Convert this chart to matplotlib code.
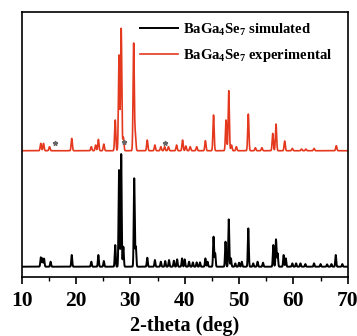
import numpy as np
import matplotlib
matplotlib.use("Agg")
import matplotlib.pyplot as plt

# Peak positions (2-theta, deg) and heights (arbitrary units)
sim_pos = [13.5, 13.8, 14.1, 15.3, 19.2, 22.8, 24.1, 25.1, 27.2, 27.9, 28.3, 28.7,
           30.7, 31.0, 33.1, 34.5, 35.6, 36.4, 37.1, 38.0, 38.6, 39.5, 40.0, 40.8,
           41.5, 42.2, 42.8, 43.8, 44.2, 45.3, 45.6, 47.5, 48.1, 48.5, 49.3, 50.0,
           50.5, 51.7, 52.6, 53.4, 54.4, 56.3, 56.8, 57.1, 58.2, 58.6, 59.8, 60.5,
           61.3, 62.2, 63.8, 65.0, 66.2, 67.0, 67.8, 69.0]
sim_h = [28, 25, 24, 15, 35, 15, 35, 17, 65, 290, 338, 60,
         265, 60, 27, 20, 15, 17, 20, 18, 22, 25, 22, 15,
         13, 13, 13, 25, 15, 90, 40, 75, 142, 25, 10, 12,
         15, 115, 10, 15, 12, 65, 82, 40, 35, 25, 10, 10,
         10, 8, 10, 8, 7, 8, 35, 8]

exp_pos = [13.5, 14.0, 15.1, 19.2, 22.8, 23.6, 24.1, 25.1, 27.2, 27.9, 28.3, 28.7,
           30.6, 30.9, 33.1, 34.5, 35.6, 36.3, 37.0, 38.5, 39.6, 40.2, 41.0, 42.2,
           43.8, 45.3, 47.6, 48.1, 48.6, 49.5, 51.7, 53.0, 54.2, 56.2, 56.8, 58.4,
           59.8, 61.5, 62.3, 63.8, 67.9]
exp_h = [22, 22, 12, 37, 12, 17, 34, 20, 92, 287, 367, 40,
         322, 50, 32, 17, 12, 12, 12, 17, 32, 14, 12, 12,
         30, 107, 92, 180, 17, 12, 110, 9, 9, 52, 80, 29,
         7, 5, 5, 7, 15]

# impurity markers (*) on experimental pattern
imp_pos = [16.2, 28.8, 36.3]
imp_h = [22, 27, 24]

offset = 348

def pattern(x, pos, h, w):
    y = np.zeros_like(x)
    for p, a in zip(pos, h):
        y += a * np.exp(-0.5 * ((x - p) / w) ** 2)
    return y

x = np.linspace(10, 70, 6001)
y_sim = pattern(x, sim_pos, sim_h, 0.09)
y_exp = pattern(x, exp_pos, exp_h, 0.11) + offset

plt.rcParams['font.family'] = ['Liberation Serif', 'DejaVu Serif']
plt.rcParams['font.weight'] = 'bold'
plt.rcParams['mathtext.fontset'] = 'custom'
plt.rcParams['mathtext.rm'] = 'Liberation Serif:bold'
plt.rcParams['mathtext.bf'] = 'Liberation Serif:bold'

fig = plt.figure(figsize=(3.57, 3.36), dpi=100)
ax = fig.add_axes([0.061, 0.1765, 0.913, 0.7885])

red = '#e4391f'
ax.plot(x, y_sim, color='black', lw=1.4, label=r'BaGa$_\mathbf{4}$Se$_\mathbf{7}$ simulated')
ax.plot(x, y_exp, color=red, lw=1.2, label=r'BaGa$_\mathbf{4}$Se$_\mathbf{7}$ experimental')
ax.plot(imp_pos, np.array(imp_h) + offset, ls='none', marker='*', ms=3.5,
        color='#666666')

ax.set_xlim(10, 70)
ax.set_ylim(-30, 765)
ax.set_yticks([])
ax.set_xticks([10, 20, 30, 40, 50, 60, 70])
ax.set_xticks(np.arange(15, 70, 10), minor=True)
ax.tick_params(axis='x', which='major', direction='out', length=5, width=1.2,
               labelsize=15.5, pad=5)
ax.tick_params(axis='x', which='minor', direction='out', length=3, width=1.0)
for s in ax.spines.values():
    s.set_linewidth(1.2)
ax.set_xlabel('2-theta (deg)', fontsize=14.5, fontweight='bold', labelpad=4)

leg = ax.legend(loc='upper left', bbox_to_anchor=(0.335, 1.0), frameon=False,
                fontsize=10.5, handlelength=2.6, handletextpad=0.3,
                borderaxespad=0.25, labelspacing=0.6)

fig.savefig('out.png', dpi=100)
